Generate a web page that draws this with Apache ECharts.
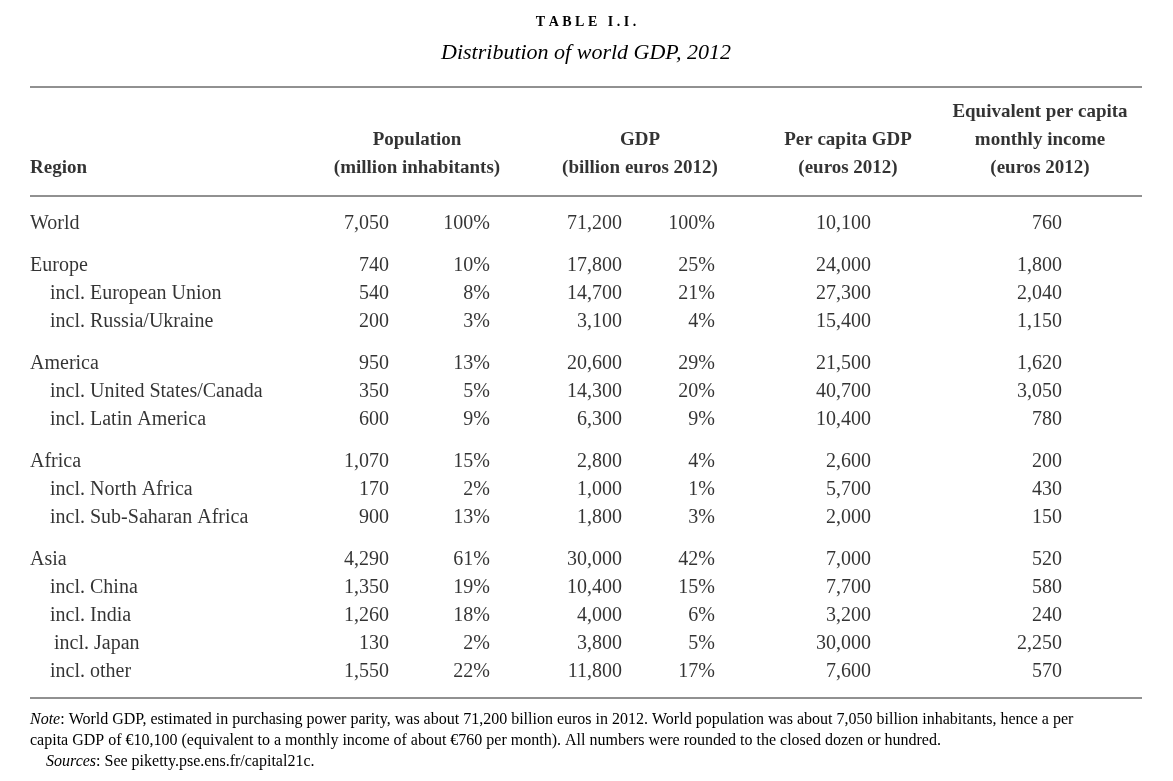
<!DOCTYPE html><html><head><meta charset="utf-8"><script src="https://cdn.jsdelivr.net/npm/echarts@6/dist/echarts.min.js"></script>
<style>html,body{margin:0;background:#fff}#c{width:1173px;height:781px}</style></head><body><div id="c"></div><script>
const regions=["World","Europe","incl. European Union","incl. Russia/Ukraine","America","incl. United States/Canada","incl. Latin America","Africa","incl. North Africa","incl. Sub-Saharan Africa","Asia","incl. China","incl. India"," incl. Japan","incl. other"];
const groups=[0,1,1,1,2,2,2,3,3,3,4,4,4,4,4];
const population=["7,050","740","540","200","950","350","600","1,070","170","900","4,290","1,350","1,260","130","1,550"];
const popShare=["100%","10%","8%","3%","13%","5%","9%","15%","2%","13%","61%","19%","18%","2%","22%"];
const gdp=["71,200","17,800","14,700","3,100","20,600","14,300","6,300","2,800","1,000","1,800","30,000","10,400","4,000","3,800","11,800"];
const gdpShare=["100%","25%","21%","4%","29%","20%","9%","4%","1%","3%","42%","15%","6%","5%","17%"];
const perCapita=["10,100","24,000","27,300","15,400","21,500","40,700","10,400","2,600","5,700","2,000","7,000","7,700","3,200","30,000","7,600"];
const monthly=["760","1,800","2,040","1,150","1,620","3,050","780","200","430","150","520","580","240","2,250","570"];
const F='"Liberation Serif", "DejaVu Serif", serif', C='#000';
const rowY=i=>224+28*i+14*groups[i];
const cols=[[population,389,'right'],[popShare,490,'right'],[gdp,622,'right'],[gdpShare,715,'right'],[perCapita,871,'right'],[monthly,1062,'right']];
const data=[];
regions.forEach((r,i)=>{data.push({value:[r.trim().startsWith('incl')?(r.startsWith(' ')?54:50):30,rowY(i),r.trim()],label:{align:'left'}});});
cols.forEach(([arr,x,al])=>arr.forEach((v,i)=>data.push({value:[x,rowY(i),v],label:{align:al}})));
const heads=[["Region",30,168,'left'],["Population",417,140,'center'],["(million inhabitants)",417,168,'center'],["GDP",640,140,'center'],["(billion euros 2012)",640,168,'center'],["Per capita GDP",848,140,'center'],["(euros 2012)",848,168,'center'],["Equivalent per capita",1040,112,'center'],["monthly income",1040,140,'center'],["(euros 2012)",1040,168,'center']];
heads.forEach(h=>data.push({value:[h[1],h[2],h[0]],label:{align:h[3],fontWeight:'bold',fontSize:19}}));
const line=y=>({type:'line',shape:{x1:30,y1:y,x2:1142,y2:y},style:{stroke:'#222',lineWidth:1}});
const ch=echarts.init(document.getElementById('c'));
ch.setOption({animation:false,
grid:{left:0,right:0,top:0,bottom:0},
xAxis:{type:'value',min:0,max:1173,show:false},
yAxis:{type:'value',min:0,max:781,inverse:true,show:false},
series:[{type:'scatter',symbolSize:0,data:data,emphasis:{disabled:true},label:{show:true,position:'inside',verticalAlign:'middle',fontFamily:F,fontSize:20,color:C,textBorderWidth:0,formatter:p=>p.data.value[2]}}],
graphic:[line(87),line(196),line(698),
{type:'text',x:586,y:22,style:{text:'T A B L E   I . I .',font:'bold 14px '+F,fill:C,align:'center',verticalAlign:'middle'}},
{type:'text',x:586,y:53,style:{text:'Distribution of world GDP, 2012',font:'italic 22px '+F,fill:C,align:'center',verticalAlign:'middle'}},
{type:'text',x:30,y:709,style:{text:'{i|Note}: World GDP, estimated in purchasing power parity, was about 71,200 billion euros in 2012. World population was about 7,050 billion inhabitants, hence a per\ncapita GDP of €10,100 (equivalent to a monthly income of about €760 per month). All numbers were rounded to the closed dozen or hundred.\n    {i|Sources}: See piketty.pse.ens.fr/capital21c.',font:'16px '+F,fill:C,lineHeight:21,rich:{i:{fontStyle:'italic',fontFamily:F,fontSize:16}}}}]
});
</script></body></html>
